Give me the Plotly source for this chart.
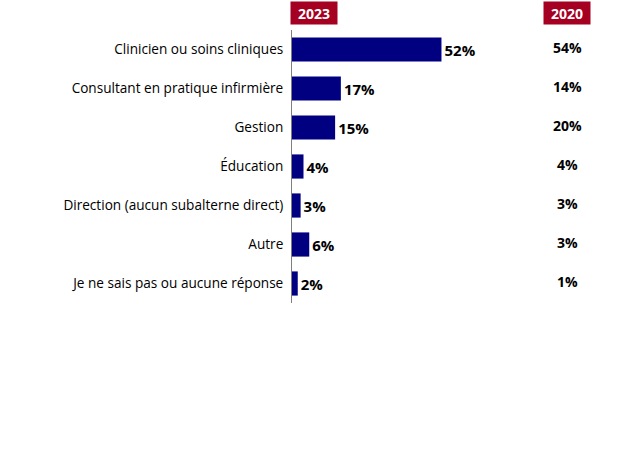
import plotly.graph_objects as go

categories = [
    "Clinicien ou soins cliniques",
    "Consultant en pratique infirmière",
    "Gestion",
    "Éducation",
    "Direction (aucun subalterne direct)",
    "Autre",
    "Je ne sais pas ou aucune réponse",
]
values_2023 = [52, 17, 15, 4, 3, 6, 2]
values_2020 = [54, 14, 20, 4, 3, 3, 1]
year_labels = ["2023", "2020"]

W, H = 624, 468
L, T, B = 292, 30, 165
XMAX = 115.5

fig = go.Figure()
fig.add_trace(go.Bar(
    y=categories, x=values_2023, orientation="h",
    marker=dict(color="#000080", line=dict(width=0)),
    text=[f"<b>{v}%</b>" for v in values_2023], textposition="outside",
    textfont=dict(family="Open Sans", size=15, color="#000000"),
    cliponaxis=False, hoverinfo="skip",
))

annotations = []
# 2020 column values
x2020 = (567 - L) / (W - L)
for c, v in zip(categories, values_2020):
    annotations.append(dict(
        x=x2020, xref="paper", y=c, yref="y", text=f"<b>{v}%</b>",
        showarrow=False, xanchor="center", yanchor="middle", yshift=2,
        font=dict(family="Open Sans", size=14, color="#000000"),
    ))
# year badges
for lbl, px in zip(year_labels, [314, 567]):
    annotations.append(dict(
        x=(px - L) / (W - L), xref="paper", y=(H - 13 - B) / (H - T - B), yref="paper",
        text=f"<b>{lbl}</b>", showarrow=False, xanchor="center", yanchor="middle",
        bgcolor="#A50021", width=42, height=18, borderpad=2,
        font=dict(family="Open Sans", size=14, color="#FFFFFF"),
    ))

fig.update_layout(
    width=W, height=H,
    margin=dict(l=L, r=0, t=T, b=B, pad=0),
    paper_bgcolor="white", plot_bgcolor="white",
    showlegend=False, bargap=0.38,
    font=dict(family="Open Sans", size=14, color="#000000"),
    xaxis=dict(range=[0, XMAX], visible=False, fixedrange=True),
    yaxis=dict(autorange="reversed", showline=True, linecolor="#7F7F7F", linewidth=1,
               ticks="", showgrid=False, zeroline=False, ticklabelstandoff=5,
               tickfont=dict(family="Open Sans", size=13.6, color="#000000")),
    annotations=annotations,
)

fig.write_html("out.html")
